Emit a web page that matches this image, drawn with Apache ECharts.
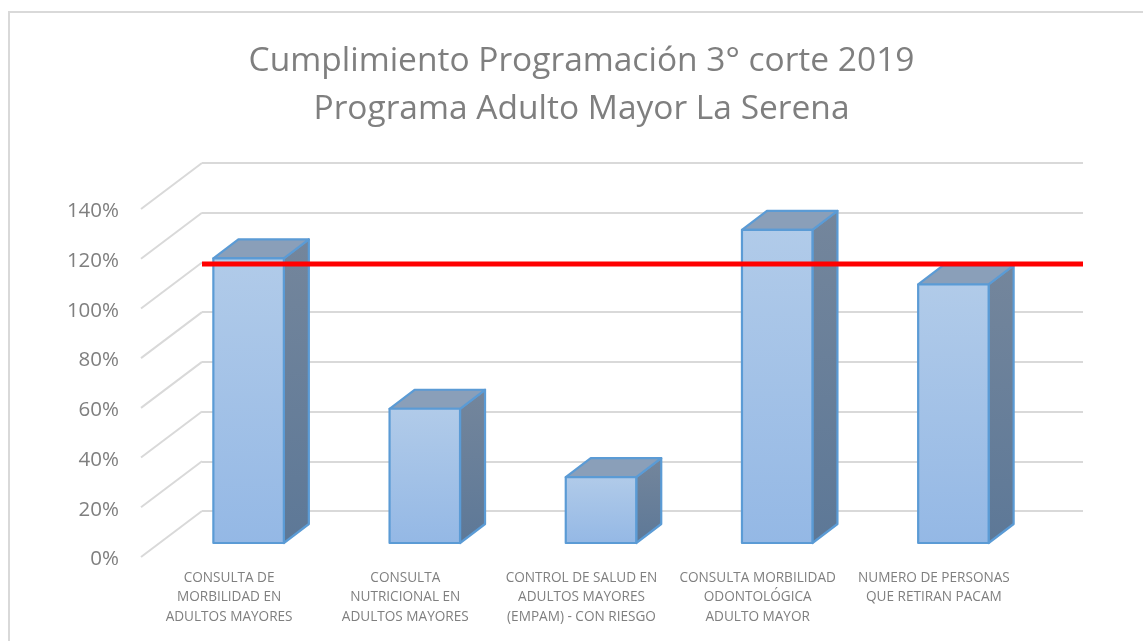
<!DOCTYPE html>
<html>
<head>
<meta charset="utf-8">
<style>html,body{margin:0;padding:0;background:#fff}#chart{width:1143px;height:641px}</style>
<script src="https://cdn.jsdelivr.net/npm/echarts@6/dist/echarts.min.js"></script>
</head>
<body>
<div id="chart"></div>
<script>
// datos
var categorias = [
    'CONSULTA DE\nMORBILIDAD EN\nADULTOS MAYORES',
    'CONSULTA\nNUTRICIONAL EN\nADULTOS MAYORES',
    'CONTROL DE SALUD EN\nADULTOS MAYORES\n(EMPAM) - CON RIESGO',
    'CONSULTA MORBILIDAD\nODONTOLÓGICA\nADULTO MAYOR',
    'NUMERO DE PERSONAS\nQUE RETIRAN PACAM'
];
var cumplimiento = [114.5, 54, 26.5, 126, 104];
var meta = [99.4, 99.4, 99.4, 99.4, 99.4];
var ticks = [0, 20, 40, 60, 80, 100, 120, 140];

var fuente = '"Open Sans", sans-serif';
var gris = '#7f7f7f';
var linea = '#d9d9d9';
var prof = { x: 25, y: 19 };   // profundidad de las barras

function renderBarra(params, api) {
    var cat = api.value(0);
    var base = api.coord([cat, 0]);
    var tope = api.coord([cat, api.value(1)]);
    var w = api.size([1, 0])[0] * 0.4;
    var x0 = base[0] - w / 2, x1 = base[0] + w / 2;
    var yb = base[1], yt = tope[1];
    var borde = { stroke: '#5b9bd5', lineWidth: 2.2, lineJoin: 'round' };
    function poli(pts, fill) {
        return { type: 'polygon', shape: { points: pts }, style: Object.assign({ fill: fill }, borde) };
    }
    function grad(a, b) {
        return new echarts.graphic.LinearGradient(0, 0, 0, 1, [
            { offset: 0, color: a }, { offset: 1, color: b }
        ]);
    }
    return {
        type: 'group',
        children: [
            poli([[x1, yt], [x1 + prof.x, yt - prof.y], [x1 + prof.x, yb - prof.y], [x1, yb]], grad('#74869c', '#5d7897')),
            poli([[x0, yt], [x0 + prof.x, yt - prof.y], [x1 + prof.x, yt - prof.y], [x1, yt]], '#8a9fb9'),
            poli([[x0, yt], [x1, yt], [x1, yb], [x0, yb]], grad('#b1cbe9', '#94b8e5'))
        ]
    };
}

var myChart = echarts.init(document.getElementById('chart'));

var option = {
    animation: false,
    title: {
        text: 'Cumplimiento Programación 3° corte 2019\nPrograma Adulto Mayor La Serena',
        left: 576.5,
        top: 32,
        textAlign: 'center',
        textStyle: { fontFamily: fuente, fontSize: 33.5, fontWeight: 'normal', color: gris, lineHeight: 48 }
    },
    graphic: [{
        type: 'polyline',
        shape: { points: [[9, 641], [9, 12], [1143, 12]] },
        style: { fill: 'none', stroke: linea, lineWidth: 2 },
        silent: true
    }],
    grid: [
        // pared del fondo
        { left: 202, top: 163, width: 881, height: 348 },
        // plano frontal: etiquetas de los ejes
        { left: 141, top: 211.5, width: 881, height: 348 },
        // plano de las barras
        { left: 160.5, top: 195, width: 881, height: 348 }
    ],
    xAxis: [
        { gridIndex: 0, type: 'category', boundaryGap: false, data: categorias, axisLine: { show: false }, axisTick: { show: false }, axisLabel: { show: false } },
        {
            gridIndex: 1, type: 'category', data: categorias, axisLine: { show: false }, axisTick: { show: false },
            axisLabel: { color: gris, fontFamily: fuente, fontSize: 13.6, lineHeight: 19.5, margin: 8.5, interval: 0 }
        },
        { gridIndex: 2, type: 'category', data: categorias, axisLine: { show: false }, axisTick: { show: false }, axisLabel: { show: false } }
    ],
    yAxis: [
        {
            gridIndex: 0, type: 'value', min: 0, max: 140, interval: 20,
            axisLabel: { show: false }, axisLine: { show: false }, axisTick: { show: false },
            splitLine: { lineStyle: { color: linea, width: 2 } }
        },
        {
            gridIndex: 1, type: 'value', min: 0, max: 140, interval: 20,
            axisLine: { show: false }, axisTick: { show: false }, splitLine: { show: false },
            axisLabel: { color: gris, fontFamily: fuente, fontSize: 20.5, margin: 22, formatter: '{value}%' }
        },
        { gridIndex: 2, type: 'value', min: 0, max: 140, show: false }
    ],
    series: [
        {
            // cada diagonal sale de la linea del fondo hacia el frente
            type: 'custom',
            xAxisIndex: 0,
            yAxisIndex: 0,
            silent: true,
            clip: false,
            data: ticks.map(function (t) { return [0, t]; }),
            encode: { x: 0, y: 1 },
            renderItem: function (params, api) {
                var atras = api.coord([0, api.value(1)]);
                return {
                    type: 'line',
                    shape: { x1: atras[0], y1: atras[1], x2: atras[0] - 61, y2: atras[1] + 46 },
                    style: { stroke: linea, lineWidth: 2 }
                };
            },
            z: 1
        },
        {
            name: 'Cumplimiento',
            type: 'custom',
            xAxisIndex: 2,
            yAxisIndex: 2,
            clip: false,
            data: cumplimiento.map(function (v, i) { return [i, v]; }),
            encode: { x: 0, y: 1 },
            renderItem: renderBarra,
            z: 3
        },
        {
            name: 'Meta',
            type: 'line',
            xAxisIndex: 0,
            yAxisIndex: 0,
            data: meta,
            symbol: 'none',
            lineStyle: { color: '#ff0000', width: 5, cap: 'butt' },
            z: 5
        }
    ]
};
myChart.setOption(option);
</script>
</body>
</html>
